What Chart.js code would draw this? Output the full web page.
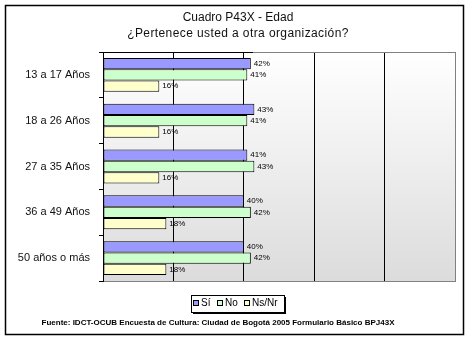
<!DOCTYPE html>
<html>
<head>
<meta charset="utf-8">
<script src="https://cdn.jsdelivr.net/npm/chart.js@4/dist/chart.umd.min.js"></script>
<style>
  html, body { margin: 0; padding: 0; background: #fff; }
  #wrap { width: 470px; height: 342px; position: relative; }
</style>
</head>
<body>
<div id="wrap"><canvas id="edadChart" width="470" height="342"></canvas></div>
<script>
const titleLines = ['Cuadro P43X - Edad', '¿Pertenece usted a otra organización?'];
const ageGroups = ['13 a 17 Años', '18 a 26 Años', '27 a 35 Años', '36 a 49 Años', '50 años o más'];
const seriesNames = ['Sí', 'No', 'Ns/Nr'];
const siValues = [42, 43, 41, 40, 40];
const noValues = [41, 41, 43, 42, 42];
const nsnrValues = [16, 16, 16, 18, 18];
const pctTicks = [0, 20, 40, 60, 80, 100];
const source = 'Fuente: IDCT-OCUB Encuesta de Cultura: Ciudad de Bogotá 2005 Formulario Básico BPJ43X';

const FILLS = ['#9999ff', '#ccffcc', '#ffffcc'];
const FONT = '"Liberation Sans", Arial, sans-serif';

// frame, plot gradient, titles, value labels, legend box and source line
const decor = {
    id: 'decor',
    beforeDraw(chart) {
        const { ctx, chartArea: a } = chart;
        ctx.save();
        ctx.fillStyle = '#fff';
        ctx.fillRect(0, 0, chart.width, chart.height);
        const g = ctx.createLinearGradient(0, a.top, 0, a.bottom);
        g.addColorStop(0, '#ffffff');
        g.addColorStop(1, '#dcdcdc');
        ctx.fillStyle = g;
        ctx.fillRect(a.left, a.top, a.right - a.left, a.bottom - a.top);
        ctx.restore();
    },
    afterDraw(chart) {
        const { ctx, chartArea: a } = chart;
        ctx.save();
        // plot border
        ctx.strokeStyle = '#808080';
        ctx.lineWidth = 1;
        ctx.strokeRect(a.left + 0.5, a.top + 0.5, a.right - a.left, a.bottom - a.top);
        ctx.strokeStyle = '#000';
        ctx.beginPath();
        ctx.moveTo(a.left + 0.5, a.top);
        ctx.lineTo(a.left + 0.5, a.bottom + 1);
        ctx.moveTo(a.left, a.top + 0.5);
        ctx.lineTo(a.left + 150, a.top + 0.5);
        ctx.stroke();

        // outer frame
        ctx.lineWidth = 1.5;
        ctx.strokeRect(5.5, 5.5, 458, 329);

        // titles
        ctx.fillStyle = '#111';
        ctx.textAlign = 'center';
        ctx.textBaseline = 'middle';
        ctx.font = '12px ' + FONT;
        ctx.fillText(titleLines[0], 238, 18);
        ctx.letterSpacing = '0.4px';
        ctx.fillText(titleLines[1], 238, 34);
        ctx.letterSpacing = '0px';

        // value labels at bar ends
        ctx.font = '8px ' + FONT;
        ctx.textAlign = 'left';
        ctx.fillStyle = '#000';
        chart.data.datasets.forEach((ds, i) => {
            chart.getDatasetMeta(i).data.forEach((bar, j) => {
                ctx.fillText(ds.data[j] + '%', bar.x + 3, bar.y);
            });
        });

        // legend box with shadow
        const lx = 191, ly = 295, lw = 93, lh = 17;
        ctx.fillStyle = '#000';
        ctx.fillRect(lx + 2, ly + 2, lw, lh);
        ctx.fillStyle = '#fff';
        ctx.fillRect(lx, ly, lw, lh);
        ctx.lineWidth = 1;
        ctx.strokeStyle = '#000';
        ctx.strokeRect(lx + 0.5, ly + 0.5, lw, lh);
        const marks = [193, 217, 244];
        ctx.font = '10px ' + FONT;
        ctx.textBaseline = 'middle';
        chart.data.datasets.forEach((ds, i) => {
            ctx.fillStyle = ds.backgroundColor;
            ctx.fillRect(marks[i] + 0.5, 300.5, 5, 5);
            ctx.strokeRect(marks[i] + 0.5, 300.5, 5, 5);
            ctx.fillStyle = '#000';
            ctx.fillText(ds.label, marks[i] + 8, 303.5);
        });

        // source line
        ctx.font = 'bold 8px ' + FONT;
        ctx.textAlign = 'center';
        ctx.fillText(source, 218, 323);
        ctx.restore();
    }
};

new Chart(document.getElementById('edadChart'), {
    type: 'bar',
    data: {
        labels: ageGroups,
        datasets: [siValues, noValues, nsnrValues].map((d, i) => ({
            label: seriesNames[i],
            data: d,
            backgroundColor: FILLS[i],
            borderColor: '#000',
            borderWidth: 1,
            borderSkipped: false,
            categoryPercentage: 0.74,
            barPercentage: 1,
        })),
    },
    options: {
        indexAxis: 'y',
        responsive: false,
        animation: false,
        layout: { padding: { left: 0, right: 15, top: 52, bottom: 61 } },
        plugins: { legend: { display: false }, title: { display: false }, tooltip: { enabled: false } },
        scales: {
            x: {
                min: pctTicks[0],
                max: pctTicks[pctTicks.length - 1],
                afterBuildTicks: (s) => { s.ticks = pctTicks.map((v) => ({ value: v })); },
                ticks: { display: false },
                border: { display: false },
                grid: {
                    drawTicks: false,
                    color: (c) => (c.tick && c.tick.value === 100 ? '#808080' : '#000'),
                    lineWidth: 1,
                },
                afterFit: (s) => { s.height = 0; },
            },
            y: {
                ticks: { color: '#111', font: { family: FONT, size: 11 }, padding: 9 },
                border: { display: false },
                grid: { drawOnChartArea: false, color: '#000', tickLength: 4, offset: true },
                afterFit: (s) => { s.width = 103; },
            },
        },
    },
    plugins: [decor],
});
</script>
</body>
</html>
